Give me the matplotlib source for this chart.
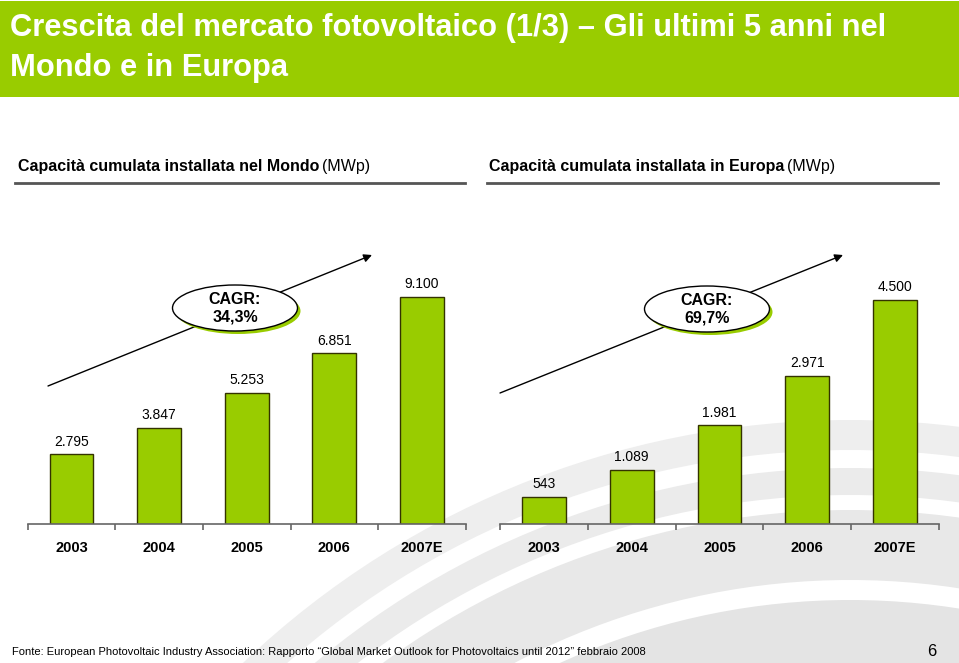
import numpy as np
import matplotlib
matplotlib.use('Agg')
import matplotlib.pyplot as plt
from matplotlib.patches import Rectangle, Ellipse, Wedge

years = ['2003', '2004', '2005', '2006', '2007E']
world_mwp = [2795, 3847, 5253, 6851, 9100]
europe_mwp = [543, 1089, 1981, 2971, 4500]
world_labels = ['2.795', '3.847', '5.253', '6.851', '9.100']
europe_labels = ['543', '1.089', '1.981', '2.971', '4.500']
cagr_world = 'CAGR:\n34,3%'
cagr_europe = 'CAGR:\n69,7%'

GREEN = '#99CC00'
plt.rcParams['font.family'] = ['Liberation Sans', 'DejaVu Sans']

W, H = 959, 663
fig = plt.figure(figsize=(W / 100, H / 100), dpi=100)
fig.patch.set_facecolor('white')

# background axes in pixel coordinates (y downwards)
bg = fig.add_axes([0, 0, 1, 1], zorder=0)
bg.set_xlim(0, W)
bg.set_ylim(H, 0)
bg.axis('off')

# grey swooshes
for r_in, r_out, col in [(620, 700, '#e4e4e4'), (720, 790, '#e8e8e8'),
                         (805, 832, '#ebebeb'), (850, 880, '#eeeeee')]:
    bg.add_patch(Wedge((850, 1300), r_out, 180, 360, width=r_out - r_in,
                       facecolor=col, edgecolor='none', zorder=0))

# title bar
bg.add_patch(Rectangle((0, 1), W, 96, facecolor=GREEN, edgecolor='none', zorder=1))
bg.text(10, 28, 'Crescita del mercato fotovoltaico (1/3) \u2013 Gli ultimi 5 anni nel',
        color='white', fontsize=22.2, fontweight='bold', va='center', zorder=2)
bg.text(10, 68, 'Mondo e in Europa', color='white', fontsize=22.2, fontweight='bold',
        va='center', zorder=2)

renderer = fig.canvas.get_renderer()
for x0, bold, x1, x2 in [(18, 'Capacità cumulata installata nel Mondo', 15, 465),
                         (489, 'Capacità cumulata installata in Europa', 487, 938)]:
    t = bg.text(x0, 167, bold, fontsize=11.5, fontweight='bold', va='center', zorder=2)
    bb = t.get_window_extent(renderer)
    bg.text(bb.x1 + 3, 167, '(MWp)', fontsize=11.5, va='center', zorder=2)
    bg.plot([x1, x2], [183, 183], color='#555555', lw=2, zorder=2)

# CAGR arrows and ellipses
for (xs, ys), (xe, ye), (cx, cy), txt in [((48, 386), (372, 255), (235, 308), cagr_world),
                                          ((500, 393), (843, 255), (707, 309), cagr_europe)]:
    bg.annotate('', xy=(xe, ye), xytext=(xs, ys), zorder=3,
                arrowprops=dict(arrowstyle='-|>', color='black', lw=1,
                                mutation_scale=12, shrinkA=0, shrinkB=0))
    bg.add_patch(Ellipse((cx + 3, cy + 3), 125, 46, facecolor=GREEN, edgecolor='none', zorder=4))
    bg.add_patch(Ellipse((cx, cy), 125, 46, facecolor='white', edgecolor='black', lw=1, zorder=5))
    bg.text(cx, cy, txt, ha='center', va='center', fontsize=11.5, fontweight='bold',
            linespacing=1.2, zorder=6)

# footer
bg.text(12, 652, 'Fonte: European Photovoltaic Industry Association: Rapporto \u201cGlobal Market '
        'Outlook for Photovoltaics until 2012\u201d febbraio 2008',
        fontsize=8, va='center', zorder=2)
bg.text(927, 651, '6', fontsize=12, va='center', zorder=2)

# bar charts
base_y = (H - 524) / H
ax_h = 284 / H
ax1 = fig.add_axes([27.7 / W, base_y, 438 / W, ax_h], zorder=2)
ax2 = fig.add_axes([500 / W, base_y, 439 / W, ax_h], zorder=2)

for ax, vals, labels, top in [(ax1, world_mwp, world_labels, 11387),
                              (ax2, europe_mwp, europe_labels, 5703)]:
    ax.patch.set_alpha(0)
    x = np.arange(len(years))
    ax.bar(x, vals, width=0.5, color=GREEN, edgecolor='#333300', linewidth=1)
    for xi, v, lab in zip(x, vals, labels):
        ax.annotate(lab, (xi, v), xytext=(0, 4), textcoords='offset points',
                    ha='center', va='bottom', fontsize=10)
    ax.set_xlim(-0.5, 4.5)
    ax.set_ylim(0, top)
    for s in ['top', 'left', 'right']:
        ax.spines[s].set_visible(False)
    ax.spines['bottom'].set_color('#666666')
    ax.spines['bottom'].set_linewidth(1.2)
    ax.set_yticks([])
    ax.set_xticks(x)
    ax.set_xticklabels(years, fontweight='bold', fontsize=10.5)
    ax.tick_params(axis='x', which='major', length=0, pad=12)
    ax.set_xticks(np.arange(-0.5, 5, 1), minor=True)
    ax.tick_params(axis='x', which='minor', length=4.5, color='#666666', width=1.2)

fig.savefig('out.png', dpi=100)
